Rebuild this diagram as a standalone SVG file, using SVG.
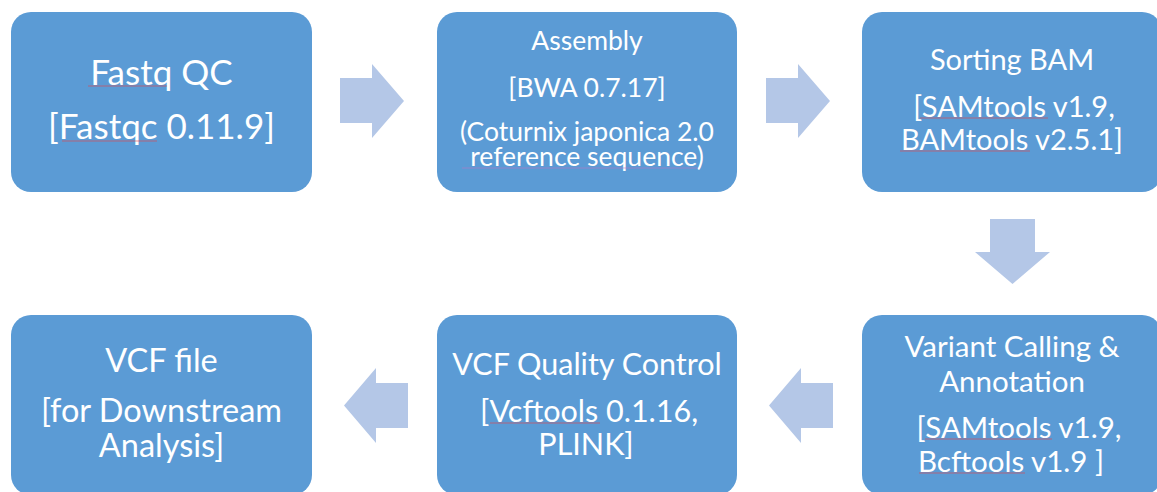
<svg xmlns="http://www.w3.org/2000/svg" width="1157" height="492" viewBox="0 0 1157 492">
<style>
.box{fill:#5B9BD5;}
.arr{fill:#B4C7E7;}
text{font-family:"Lato","Open Sans","Liberation Sans",sans-serif;fill:#FFFFFF;text-anchor:middle;}
.sq{fill:none;stroke:#E0474C;stroke-width:0.8;opacity:0.8;}
.sqp{fill:none;stroke:#B07CC6;stroke-width:0.8;opacity:0.8;}
</style>
<rect width="1157" height="492" fill="#FFFFFF"/>
<g id="connectors">
<polygon class="arr" points="340,78 372,78 372,64 404,101 372,138 372,123 340,123"/>
<polygon class="arr" points="766,78 798,78 798,64 830,101 798,138 798,123 766,123"/>
<polygon class="arr" points="990,219 1035,219 1035,252 1050,252 1012.5,284 975,252 990,252"/>
<polygon class="arr" points="833,383 801,383 801,368 769,405.5 801,443 801,428 833,428"/>
<polygon class="arr" points="408,383 376,383 376,368 344,405.5 376,443 376,428 408,428"/>
</g>
<g id="node-fastqc">
<rect class="box" x="11" y="12" width="301" height="180" rx="20"/>
<text x="161.5" y="85" font-size="35">Fastq QC</text>
<text x="161.5" y="139" font-size="35">[Fastqc 0.11.9]</text>
</g>
<g id="node-assembly">
<rect class="box" x="437" y="12" width="300" height="180" rx="20"/>
<text x="587" y="50" font-size="26.5">Assembly</text>
<text x="587" y="97" font-size="26.5">[BWA 0.7.17]</text>
<text x="587" y="141" font-size="26.5">(Coturnix japonica 2.0</text>
<text x="587" y="166" font-size="26.5">reference sequence)</text>
</g>
<g id="node-sorting">
<rect class="box" x="862" y="12" width="300" height="180" rx="20"/>
<text x="1012" y="70" font-size="29">Sorting BAM</text>
<text x="1014" y="117" font-size="29">[SAMtools v1.9,</text>
<text x="1012" y="150" font-size="29">BAMtools v2.5.1]</text>
</g>
<g id="node-variant">
<rect class="box" x="862" y="315" width="300" height="180" rx="20"/>
<text x="1012" y="357" font-size="29.5">Variant Calling &amp;</text>
<text x="1012" y="392" font-size="29.5">Annotation</text>
<text x="1019" y="438" font-size="29.5">[SAMtools v1.9,</text>
<text x="1011" y="472" font-size="29.5">Bcftools v1.9 ]</text>
</g>
<g id="node-vcfqc">
<rect class="box" x="437" y="315" width="300" height="180" rx="20"/>
<text x="587" y="375" font-size="30.5">VCF Quality Control</text>
<text x="589" y="422" font-size="30.5">[Vcftools 0.1.16,</text>
<text x="586" y="455" font-size="30.5">PLINK]</text>
</g>
<g id="node-vcffile">
<rect class="box" x="11" y="315" width="301" height="180" rx="20"/>
<text x="161.5" y="372" font-size="32.5">VCF file</text>
<text x="161.5" y="422" font-size="32.5">[for Downstream</text>
<text x="161.5" y="457" font-size="32.5">Analysis]</text>
</g>
<g id="spellcheck">
<path class="sq" d="M88,86 H167"/>
<path class="sq" d="M62,141 H157"/>
<path class="sqp" d="M462,168 H698"/>
<path class="sq" d="M920,118 H1048"/>
<path class="sq" d="M900,151 H1030"/>
<path class="sq" d="M925,439 H1052"/>
<path class="sq" d="M919,473 H1025"/>
<path class="sq" d="M490,423 H600"/>
</g>
</svg>
